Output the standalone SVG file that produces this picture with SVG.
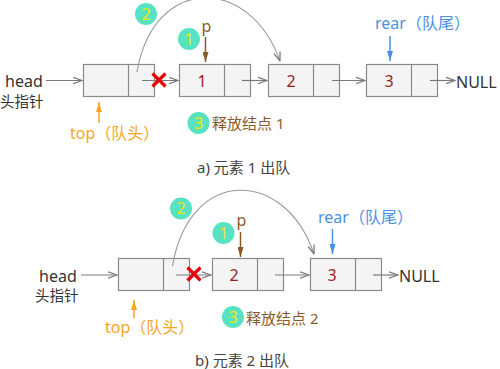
<svg xmlns="http://www.w3.org/2000/svg" width="500" height="369" viewBox="0 0 500 369">
<style>
text{font-family:"Noto Sans","Noto Sans CJK SC",sans-serif}
.box{fill:#f4f4f4;stroke:#8a8a8a;stroke-width:1.2}
.div{stroke:#8a8a8a;stroke-width:1.2}
.num{font-size:16px;fill:#9b1c1c;text-anchor:middle}
.lbl{font-size:16px;fill:#333}
.cn{font-size:14.5px;fill:#333}
.cap{font-size:15px;fill:#444}
.conn{stroke:#7a7a7a;stroke-width:1.2;fill:none;marker-end:url(#ag)}
.curve{stroke:#9a9a9a;stroke-width:1.1;fill:none;marker-end:url(#ag)}
.badge circle{fill:#58e2c4}
.badge text{font-size:16px;fill:#f2e600;text-anchor:middle}
text.brown{fill:#8b5a2b}
text.orange{fill:#f5a623}
text.blue{fill:#4a90e2}
.x{stroke:#e8000b;stroke-width:3.2;stroke-linecap:butt;fill:none}
</style>
<defs>
<marker id="ag" viewBox="0 0 10 8" refX="9.5" refY="4" markerWidth="10" markerHeight="8" markerUnits="userSpaceOnUse" orient="auto">
<path d="M0.5,0.8 L9.5,4 L0.5,7.2" fill="none" stroke="#7a7a7a" stroke-width="1.3"/>
</marker>
<marker id="abr" viewBox="0 0 10 6" refX="10" refY="3" markerWidth="10" markerHeight="6" markerUnits="userSpaceOnUse" orient="auto">
<path d="M0,0 L10,3 L0,6 z" fill="#8b5a2b"/>
</marker>
<marker id="aor" viewBox="0 0 10 6" refX="10" refY="3" markerWidth="10" markerHeight="6" markerUnits="userSpaceOnUse" orient="auto">
<path d="M0,0 L10,3 L0,6 z" fill="#f5a623"/>
</marker>
<marker id="abl" viewBox="0 0 10 6" refX="10" refY="3" markerWidth="10" markerHeight="6" markerUnits="userSpaceOnUse" orient="auto">
<path d="M0,0 L10,3 L0,6 z" fill="#4a90e2"/>
</marker>
</defs>

<!-- ===== a) ===== -->
<g id="a-head-label">
<text class="lbl" x="5" y="87">head</text>
<text class="cn" x="0" y="107">头指针</text>
</g>
<g id="a-headnode">
<rect class="box" x="83.5" y="64.5" width="71" height="32"/>
<line class="div" x1="128.5" y1="64.5" x2="128.5" y2="96.5"/>
</g>
<g id="a-node1">
<rect class="box" x="179.5" y="64.5" width="71" height="32"/>
<line class="div" x1="224.5" y1="64.5" x2="224.5" y2="96.5"/>
<text class="num" x="202" y="86.5">1</text>
</g>
<g id="a-node2">
<rect class="box" x="268.5" y="64.5" width="71" height="32"/>
<line class="div" x1="313.5" y1="64.5" x2="313.5" y2="96.5"/>
<text class="num" x="291" y="86.5">2</text>
</g>
<g id="a-node3">
<rect class="box" x="366.5" y="64.5" width="71" height="32"/>
<line class="div" x1="411.5" y1="64.5" x2="411.5" y2="96.5"/>
<text class="num" x="389" y="86.5">3</text>
</g>
<g id="a-null"><text class="lbl" x="456" y="87.5">NULL</text></g>
<g id="a-p"><text class="lbl brown" x="201.5" y="32">p</text></g>
<g id="a-rear"><text class="lbl blue" x="375" y="28.5">rear（队尾）</text></g>
<g id="a-top"><text class="lbl orange" x="70" y="139">top（队头）</text></g>
<g id="a-badge2" class="badge"><circle cx="146" cy="14" r="11"/><text x="146" y="19.5">2</text></g>
<g id="a-badge1" class="badge"><circle cx="189" cy="39" r="11"/><text x="189" y="44.5">1</text></g>
<g id="a-badge3" class="badge"><circle cx="198.5" cy="123" r="11"/><text x="198.5" y="128.5">3</text></g>
<g id="a-free"><text class="cap brown" x="212" y="129">释放结点 1</text></g>
<g id="a-caption"><text class="cap" x="197" y="173">a) 元素 1 出队</text></g>

<!-- ===== b) ===== -->
<g id="b-head-label">
<text class="lbl" x="39" y="282">head</text>
<text class="cn" x="35" y="301">头指针</text>
</g>
<g id="b-headnode">
<rect class="box" x="118.5" y="258.5" width="71" height="32"/>
<line class="div" x1="163.5" y1="258.5" x2="163.5" y2="290.5"/>
</g>
<g id="b-node2">
<rect class="box" x="212.5" y="258.5" width="71" height="32"/>
<line class="div" x1="257.5" y1="258.5" x2="257.5" y2="290.5"/>
<text class="num" x="234" y="280.5">2</text>
</g>
<g id="b-node3">
<rect class="box" x="310.5" y="258.5" width="71" height="32"/>
<line class="div" x1="355.5" y1="258.5" x2="355.5" y2="290.5"/>
<text class="num" x="332" y="280.5">3</text>
</g>
<g id="b-null"><text class="lbl" x="399" y="281.5">NULL</text></g>
<g id="b-p"><text class="lbl brown" x="236.5" y="226">p</text></g>
<g id="b-rear"><text class="lbl blue" x="318" y="223">rear（队尾）</text></g>
<g id="b-top"><text class="lbl orange" x="105" y="332.5">top（队头）</text></g>
<g id="b-badge2" class="badge"><circle cx="181" cy="208.5" r="11"/><text x="181" y="214">2</text></g>
<g id="b-badge1" class="badge"><circle cx="223.5" cy="233" r="11"/><text x="223.5" y="238.5">1</text></g>
<g id="b-badge3" class="badge"><circle cx="233" cy="317" r="11"/><text x="233" y="322.5">3</text></g>
<g id="b-free"><text class="cap brown" x="246" y="323.5">释放结点 2</text></g>
<g id="b-caption"><text class="cap" x="195" y="366">b) 元素 2 出队</text></g>

<g id="connectors">
<!-- a -->
<line class="conn" x1="46" y1="80.5" x2="82" y2="80.5"/>
<line class="conn" x1="142" y1="80.5" x2="178" y2="80.5"/>
<line class="conn" x1="242" y1="80.5" x2="267" y2="80.5"/>
<line class="conn" x1="332" y1="80.5" x2="365" y2="80.5"/>
<line class="conn" x1="430" y1="80.5" x2="455" y2="80.5"/>
<path class="curve" d="M137,72 C154,-26 250,-24 280,61"/>
<line x1="205.5" y1="37" x2="205.5" y2="62" stroke="#8b5a2b" stroke-width="1.5" marker-end="url(#abr)"/>
<line x1="390" y1="36" x2="390" y2="61" stroke="#4a90e2" stroke-width="1.5" marker-end="url(#abl)"/>
<line x1="99" y1="123" x2="99" y2="102" stroke="#f5a623" stroke-width="1.5" marker-end="url(#aor)"/>
<!-- b -->
<line class="conn" x1="81" y1="275" x2="117" y2="275"/>
<line class="conn" x1="176" y1="275" x2="211" y2="275"/>
<line class="conn" x1="275" y1="275" x2="309" y2="275"/>
<line class="conn" x1="373" y1="275" x2="398" y2="275"/>
<path class="curve" d="M172.5,266 C189.5,166 285,168 314,254"/>
<line x1="240.5" y1="232" x2="240.5" y2="257" stroke="#8b5a2b" stroke-width="1.5" marker-end="url(#abr)"/>
<line x1="332.5" y1="229" x2="332.5" y2="254" stroke="#4a90e2" stroke-width="1.5" marker-end="url(#abl)"/>
<line x1="134" y1="318" x2="134" y2="300" stroke="#f5a623" stroke-width="1.5" marker-end="url(#aor)"/>
</g>

<g id="cut-marks">
<path class="x" d="M152.5,73.5 L165.5,86.5 M165.5,73.5 L152.5,86.5"/>
<path class="x" d="M187.5,267.5 L200.5,280.5 M200.5,267.5 L187.5,280.5"/>
</g>
</svg>
